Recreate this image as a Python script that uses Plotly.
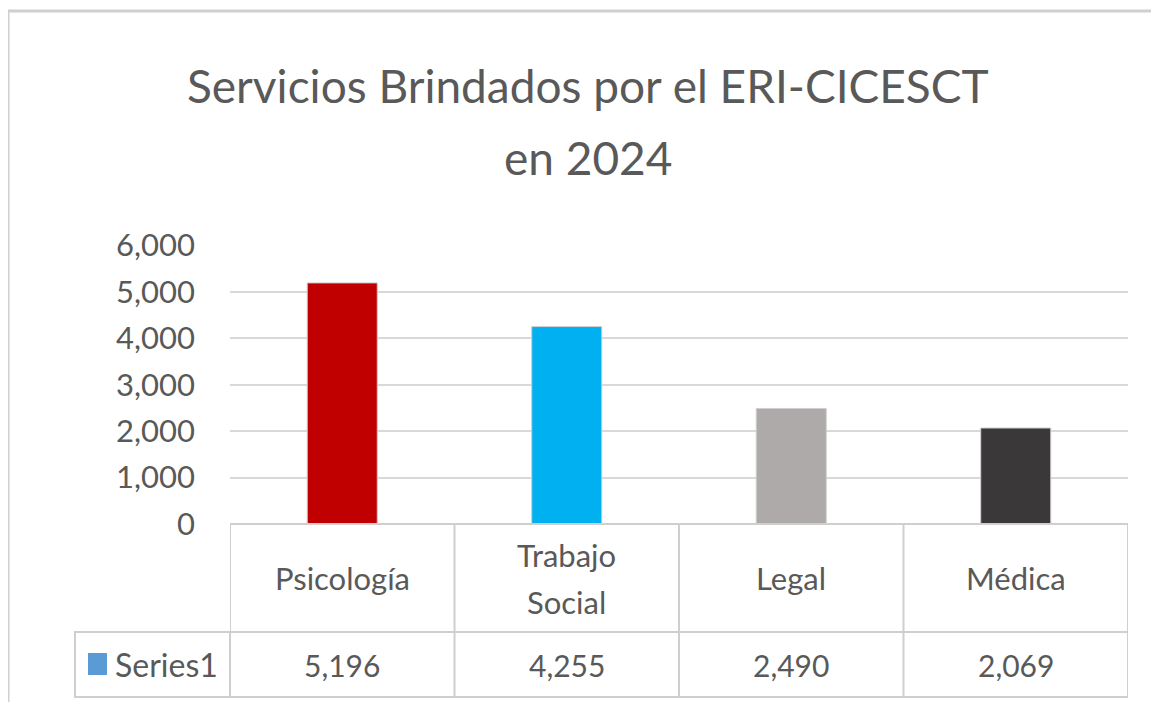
import plotly.graph_objects as go

# data
categories = ["Psicología", "Trabajo<br>Social", "Legal", "Médica"]
values = [5196, 4255, 2490, 2069]
bar_colors = ["#C00000", "#00B0F0", "#AEAAAA", "#3A3838"]
series_name = "Series1"
title_lines = ["Servicios Brindados por el ERI-CICESCT", "en 2024"]
y_ticks = [0, 1000, 2000, 3000, 4000, 5000, 6000]

# page body has an 8px margin, so the figure is sized to fit inside it
OFF = 8
W, H = 1159 - 2 * OFF, 710 - 2 * OFF
FONT = "Lato"
TEXT = "#595959"
LINE = "#CFCFCF"


def px_x(px):
    return (px - OFF) / W


def px_y(px):
    return 1 - (px - OFF) / H


fig = go.Figure()

fig.add_trace(
    go.Bar(
        x=list(range(len(categories))),
        y=values,
        marker=dict(color=bar_colors, line=dict(color="#CFCFCF", width=1)),
        name=series_name,
        showlegend=False,
        hoverinfo="y",
    )
)

# data table under the plot
top, mid, bot = 524, 632, 697
n = len(categories)
grid_lines = [
    (-0.5, n - 0.5, top, top),
    (-0.5, n - 0.5, mid, mid),
    (-0.5, n - 0.5, bot, bot),
] + [(i - 0.5, i - 0.5, top, bot) for i in range(n + 1)]
for x0, x1, y0, y1 in grid_lines:
    fig.add_shape(type="line", xref="x", yref="paper", x0=x0, x1=x1,
                  y0=px_y(y0), y1=px_y(y1), line=dict(color=LINE, width=2))

# legend cell sits left of the plot area
fig.add_shape(type="rect", xref="paper", yref="paper",
              x0=px_x(75), x1=px_x(230), y0=px_y(bot), y1=px_y(mid),
              line=dict(color=LINE, width=2))

for i, (cat, v) in enumerate(zip(categories, values)):
    parts = cat.split("<br>")
    cy = (top + mid) / 2
    for k, part in enumerate(parts):
        ly = cy + (k - (len(parts) - 1) / 2) * 47
        fig.add_annotation(x=i, y=px_y(ly), xref="x", yref="paper",
                           text=part, showarrow=False, yanchor="middle",
                           font=dict(family=FONT, size=31, color=TEXT))
    fig.add_annotation(x=i, y=px_y((mid + bot) / 2), xref="x", yref="paper",
                       text=f"{v:,}", showarrow=False, yanchor="middle",
                       font=dict(family=FONT, size=30, color=TEXT))

# legend key
fig.add_shape(type="rect", xref="paper", yref="paper",
              x0=px_x(88), x1=px_x(107), y0=px_y(675), y1=px_y(653),
              fillcolor="#5B9BD5", line=dict(width=0))
fig.add_annotation(x=px_x(113), y=px_y((mid + bot) / 2), xref="paper", yref="paper",
                   text=series_name, showarrow=False, xanchor="left", yanchor="middle",
                   font=dict(family=FONT, size=32, color=TEXT))

# outer chart border (top and left)
fig.add_shape(type="line", xref="paper", yref="paper", x0=px_x(8), x1=1,
              y0=px_y(11), y1=px_y(11), line=dict(color="#D0D0D0", width=3))
fig.add_shape(type="line", xref="paper", yref="paper", x0=px_x(8), x1=px_x(8),
              y0=px_y(11), y1=0, line=dict(color="#D0D0D0", width=3))

# title
for line, ypx in zip(title_lines, [85, 157]):
    fig.add_annotation(x=px_x(588), y=px_y(ypx), xref="paper", yref="paper",
                       text=line, showarrow=False, yanchor="middle",
                       font=dict(family=FONT, size=46, color=TEXT))

fig.update_layout(
    width=W,
    height=H,
    margin=dict(l=0, r=0, t=0, b=0, pad=0),
    plot_bgcolor="white",
    paper_bgcolor="white",
    bargap=0.688,
    xaxis=dict(
        domain=[px_x(230), px_x(1128)],
        range=[-0.5, n - 0.5],
        showticklabels=False,
        showgrid=False,
        zeroline=False,
        automargin=False,
        fixedrange=True,
    ),
    yaxis=dict(
        domain=[px_y(top), px_y(245.6)],
        range=[0, 6000],
        tickvals=y_ticks,
        tickformat=",",
        showgrid=True,
        gridcolor="#D9D9D9",
        gridwidth=2,
        zeroline=False,
        automargin=False,
        ticklabelstandoff=34,
        tickfont=dict(family=FONT, size=31, color=TEXT),
        fixedrange=True,
    ),
)

fig.write_html("out.html")
